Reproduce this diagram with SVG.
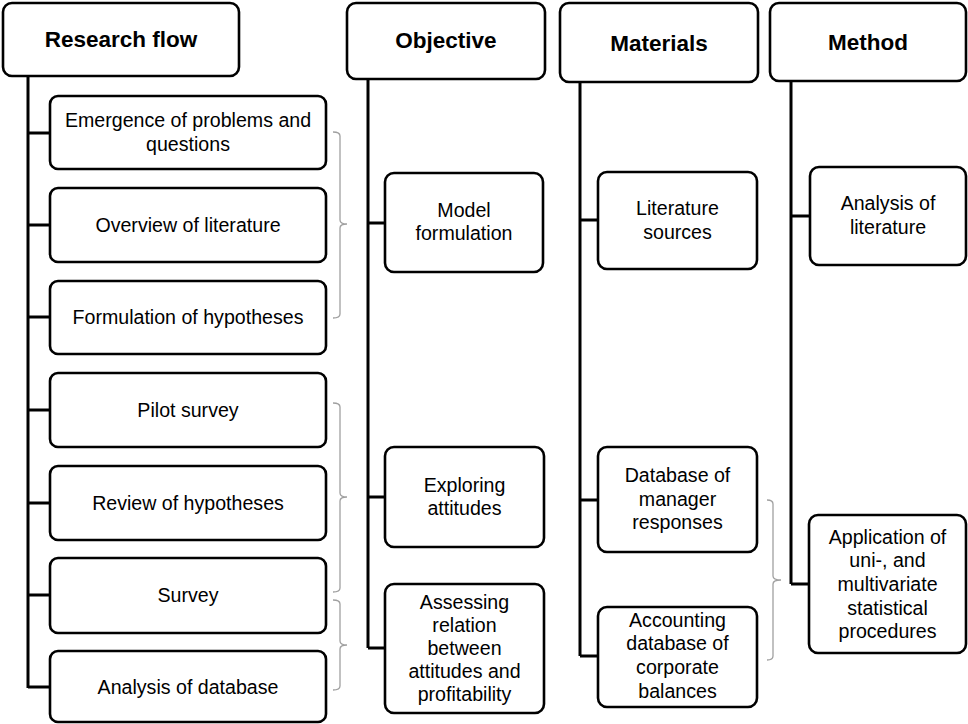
<svg xmlns="http://www.w3.org/2000/svg" width="968" height="724" viewBox="0 0 968 724">
<style>
.box{fill:#fff;stroke:#000;stroke-width:2.6}
.t{font-family:"Liberation Sans",Arial,sans-serif;font-size:19.6px;fill:#000;text-anchor:middle}
.h{font-family:"Liberation Sans",Arial,sans-serif;font-size:22.5px;font-weight:bold;fill:#000;text-anchor:middle}
.ln{stroke:#000;stroke-width:3;fill:none}
.br{stroke:#a0a0a0;stroke-width:1.3;fill:none}
</style>
<rect width="968" height="724" fill="#fff"/>
<g id="connectors">
<path class="ln" d="M28,76 V688 M28,133 H50 M28,225 H50 M28,317 H50 M28,410 H50 M28,503 H50 M28,595 H50 M28,687 H50"/>
<path class="ln" d="M368,79 V648 M368,223 H385 M368,497 H385 M368,648 H385"/>
<path class="ln" d="M580,82 V656 M580,220 H598 M580,500 H598 M580,656 H598"/>
<path class="ln" d="M791,81 V584 M791,216 H810 M791,584 H810"/>
<path class="br" d="M333,132 Q340,132 340,136 V220 Q340,224 347,224 Q340,224 340,228 V314 Q340,318 333,318"/>
<path class="br" d="M333,403 Q340,403 340,407 V493 Q340,497 347,497 Q340,497 340,501 V588 Q340,592 333,592"/>
<path class="br" d="M333,600 Q340,600 340,604 V641 Q340,645 347,645 Q340,645 340,649 V686 Q340,690 333,690"/>
<path class="br" d="M767,500 Q773,500 773,504 V576 Q773,580 781,580 Q773,580 773,584 V656 Q773,660 767,660"/>
</g>
<g id="h-research"><rect class="box" x="3" y="3" width="236" height="73" rx="9"/><text class="h" x="121" y="47">Research flow</text></g>
<g id="h-objective"><rect class="box" x="347" y="3" width="198" height="76" rx="9"/><text class="h" x="446" y="48">Objective</text></g>
<g id="h-materials"><rect class="box" x="560" y="3" width="198" height="79" rx="9"/><text class="h" x="659" y="51">Materials</text></g>
<g id="h-method"><rect class="box" x="770" y="3" width="196" height="78" rx="9"/><text class="h" x="868" y="50">Method</text></g>

<g id="r1"><rect class="box" x="50" y="96" width="276" height="73" rx="8"/><text class="t" x="188" y="126.5">Emergence of problems and</text><text class="t" x="188" y="150.5">questions</text></g>
<g id="r2"><rect class="box" x="50" y="188" width="276" height="74" rx="8"/><text class="t" x="188" y="231.5">Overview of literature</text></g>
<g id="r3"><rect class="box" x="50" y="281" width="276" height="73" rx="8"/><text class="t" x="188" y="323.5">Formulation of hypotheses</text></g>
<g id="r4"><rect class="box" x="50" y="373" width="276" height="74" rx="8"/><text class="t" x="188" y="416.5">Pilot survey</text></g>
<g id="r5"><rect class="box" x="50" y="466" width="276" height="74" rx="8"/><text class="t" x="188" y="509.5">Review of hypotheses</text></g>
<g id="r6"><rect class="box" x="50" y="558" width="276" height="75" rx="8"/><text class="t" x="188" y="601.5">Survey</text></g>
<g id="r7"><rect class="box" x="50" y="651" width="276" height="71" rx="8"/><text class="t" x="188" y="693.5">Analysis of database</text></g>

<g id="o1"><rect class="box" x="385" y="173" width="158" height="99" rx="9"/><text class="t" x="464" y="216.5">Model</text><text class="t" x="464" y="239.5">formulation</text></g>
<g id="o2"><rect class="box" x="385" y="447" width="159" height="100" rx="9"/><text class="t" x="464.5" y="491.5">Exploring</text><text class="t" x="464.5" y="514.5">attitudes</text></g>
<g id="o3"><rect class="box" x="385" y="584" width="159" height="129" rx="9"/><text class="t" x="464.5" y="608.5">Assessing</text><text class="t" x="464.5" y="631.5">relation</text><text class="t" x="464.5" y="654.5">between</text><text class="t" x="464.5" y="677.5">attitudes and</text><text class="t" x="464.5" y="700.5">profitability</text></g>

<g id="m1"><rect class="box" x="598" y="172" width="159" height="97" rx="9"/><text class="t" x="677.5" y="214.5">Literature</text><text class="t" x="677.5" y="238.5">sources</text></g>
<g id="m2"><rect class="box" x="598" y="447" width="159" height="105" rx="9"/><text class="t" x="677.5" y="481.5">Database of</text><text class="t" x="677.5" y="505.5">manager</text><text class="t" x="677.5" y="528.5">responses</text></g>
<g id="m3"><rect class="box" x="598" y="607" width="159" height="100" rx="9"/><text class="t" x="677.5" y="626.5">Accounting</text><text class="t" x="677.5" y="649.5">database of</text><text class="t" x="677.5" y="673.5">corporate</text><text class="t" x="677.5" y="697.5">balances</text></g>

<g id="x1"><rect class="box" x="810" y="167" width="156" height="98" rx="9"/><text class="t" x="888" y="209.5">Analysis of</text><text class="t" x="888" y="233.5">literature</text></g>
<g id="x2"><rect class="box" x="809" y="515" width="157" height="138" rx="9"/><text class="t" x="887.5" y="543.5">Application of</text><text class="t" x="887.5" y="566.5">uni-, and</text><text class="t" x="887.5" y="590.5">multivariate</text><text class="t" x="887.5" y="614.5">statistical</text><text class="t" x="887.5" y="637.5">procedures</text></g>
</svg>
